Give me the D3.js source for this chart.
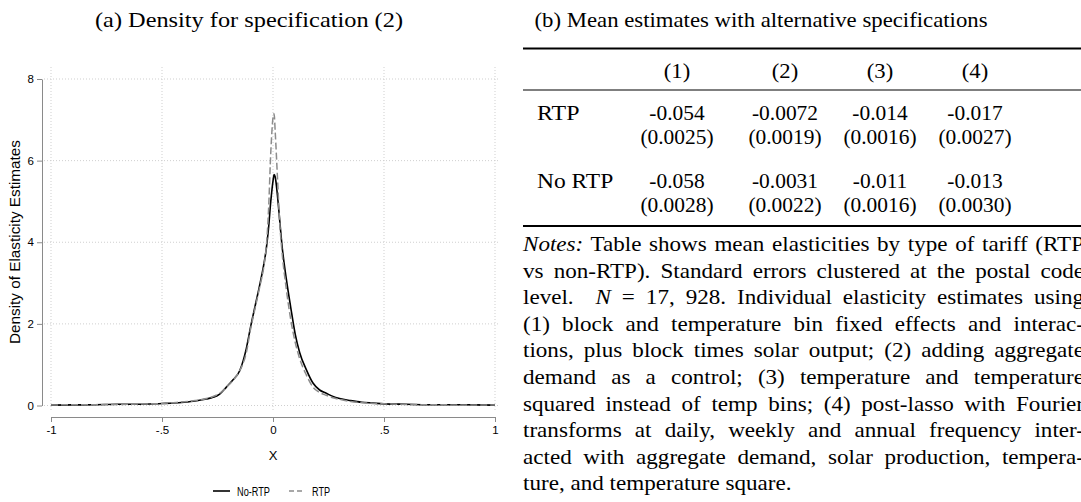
<!DOCTYPE html>
<html>
<head>
<meta charset="utf-8">
<script src="https://cdn.jsdelivr.net/npm/d3@7"></script>
<style>
  body { margin: 0; background: #fff; }
  svg { display: block; }
</style>
</head>
<body>
<svg id="fig" width="1081" height="502"></svg>
<script>
// ---- panel (a): kernel density ----
const densX = [-1, -0.9, -0.8, -0.7, -0.6, -0.5, -0.45, -0.4, -0.35, -0.3,
  -0.27, -0.24, -0.21, -0.18, -0.15, -0.12, -0.1, -0.08, -0.06, -0.04,
  -0.03, -0.02, -0.01, 0, 0.005, 0.01, 0.02, 0.03, 0.04, 0.06,
  0.08, 0.1, 0.12, 0.15, 0.18, 0.21, 0.24, 0.27, 0.3, 0.35,
  0.4, 0.45, 0.5, 0.6, 0.7, 0.8, 0.9, 1];
const noRtpDens = [0.01, 0.015, 0.02, 0.03, 0.03, 0.05, 0.06, 0.08, 0.11, 0.16,
  0.2, 0.28, 0.45, 0.63, 0.85, 1.4, 1.95, 2.45, 2.95, 3.5,
  3.85, 4.35, 5.0, 5.5, 5.66, 5.6, 5.15, 4.55, 3.95, 3.1,
  2.4, 1.75, 1.3, 0.88, 0.55, 0.38, 0.3, 0.22, 0.17, 0.12,
  0.08, 0.06, 0.04, 0.03, 0.02, 0.02, 0.015, 0.01];
const rtpDens = [0.01, 0.02, 0.02, 0.025, 0.035, 0.05, 0.07, 0.09, 0.12, 0.17,
  0.22, 0.3, 0.45, 0.62, 0.85, 1.3, 1.9, 2.4, 2.9, 3.45,
  3.9, 4.8, 6.2, 7.05, 7.15, 6.7, 5.6, 4.5, 3.8, 2.85,
  2.1, 1.55, 1.15, 0.75, 0.45, 0.32, 0.25, 0.19, 0.15, 0.1,
  0.07, 0.05, 0.04, 0.025, 0.02, 0.015, 0.01, 0.01];
const xTicks = [-1, -0.5, 0, 0.5, 1];
const xTickLabels = ["-1", "-.5", "0", ".5", "1"];
const yTicks = [0, 2, 4, 6, 8];
const legendLabels = ["No-RTP", "RTP"];

// ---- panel (b): table ----
const colHeads = ["(1)", "(2)", "(3)", "(4)"];
const rowLabels = ["RTP", "No RTP"];
const rtpEst = ["-0.054", "-0.0072", "-0.014", "-0.017"];
const rtpSe = ["(0.0025)", "(0.0019)", "(0.0016)", "(0.0027)"];
const noRtpEst = ["-0.058", "-0.0031", "-0.011", "-0.013"];
const noRtpSe = ["(0.0028)", "(0.0022)", "(0.0016)", "(0.0030)"];
const noteLines = [
  [["Notes:", true], [" Table shows mean elasticities by type of tariff (RTP", false]],
  [["vs non-RTP). Standard errors clustered at the postal code", false]],
  [["level.  ", false], ["N", true], [" = 17, 928. Individual elasticity estimates using", false]],
  [["(1) block and temperature bin fixed effects and interac-", false]],
  [["tions, plus block times solar output; (2) adding aggregate", false]],
  [["demand as a control; (3) temperature and temperature", false]],
  [["squared instead of temp bins; (4) post-lasso with Fourier", false]],
  [["transforms at daily, weekly and annual frequency inter-", false]],
  [["acted with aggregate demand, solar production, tempera-", false]],
  [["ture, and temperature square.", false]]
];

const svg = d3.select("#fig");
svg.append("rect").attr("width", 1081).attr("height", 502).attr("fill", "#fff");

const sans = "'Liberation Sans', Arial, Helvetica, sans-serif";
const serif = "'Liberation Serif', 'Times New Roman', serif";

let x = d3.scaleLinear().domain([-1, 1]).range([51, 495]);
let y = d3.scaleLinear().domain([0, 8]).range([405.5, 79]);

// grid
let grid = svg.append("g").attr("stroke", "#cfcfcf").attr("stroke-dasharray", "1,2").attr("stroke-width", 1);
grid.selectAll(".hg").data(yTicks).enter().append("line")
    .attr("x1", 44).attr("x2", 500)
    .attr("y1", d => y(d)).attr("y2", d => y(d));
grid.selectAll(".vg").data(xTicks).enter().append("line")
    .attr("x1", d => x(d)).attr("x2", d => x(d))
    .attr("y1", 67).attr("y2", 412);

// axes
let yAxis = svg.append("g").attr("transform", "translate(42,0)")
    .call(d3.axisLeft(y).tickValues(yTicks).tickSize(5).tickSizeOuter(0).tickPadding(3));
let xAxis = svg.append("g").attr("transform", "translate(0,417)")
    .call(d3.axisBottom(x).tickValues(xTicks).tickSize(5).tickSizeOuter(0).tickPadding(4)
        .tickFormat((d, i) => xTickLabels[i]));
[yAxis, xAxis].forEach(a => {
    a.selectAll("path, line").attr("stroke", "#8a8a8a");
    a.selectAll("text").attr("font-family", sans).attr("font-size", 11.5).attr("fill", "#000");
});

svg.append("text").attr("transform", "translate(20,242) rotate(-90)")
    .attr("text-anchor", "middle").attr("font-family", sans).attr("font-size", 14.5)
    .attr("textLength", 204).attr("lengthAdjust", "spacingAndGlyphs")
    .text("Density of Elasticity Estimates");
svg.append("text").attr("x", 273).attr("y", 460)
    .attr("text-anchor", "middle").attr("font-family", sans).attr("font-size", 13)
    .text("X");

// curves
let line = d3.line().x(d => x(d[0])).y(d => y(d[1])).curve(d3.curveMonotoneX);
svg.append("path").datum(d3.zip(densX, noRtpDens))
    .attr("d", line).attr("fill", "none").attr("stroke", "#000").attr("stroke-width", 1.6);
svg.append("path").datum(d3.zip(densX, rtpDens))
    .attr("d", line).attr("fill", "none").attr("stroke", "#8c8c8c").attr("stroke-width", 1.5)
    .attr("stroke-dasharray", "7,3");

// legend
let leg = svg.append("g").attr("font-family", sans).attr("font-size", 12.5);
leg.append("line").attr("x1", 213).attr("x2", 230).attr("y1", 491).attr("y2", 491)
    .attr("stroke", "#000").attr("stroke-width", 1.6);
leg.append("text").attr("x", 237).attr("y", 496)
    .attr("textLength", 33).attr("lengthAdjust", "spacingAndGlyphs").text(legendLabels[0]);
leg.append("line").attr("x1", 289).attr("x2", 305).attr("y1", 491).attr("y2", 491)
    .attr("stroke", "#8c8c8c").attr("stroke-width", 1.5).attr("stroke-dasharray", "5,3");
leg.append("text").attr("x", 312).attr("y", 496)
    .attr("textLength", 18).attr("lengthAdjust", "spacingAndGlyphs").text(legendLabels[1]);

// titles
svg.append("text").attr("x", 249).attr("y", 27).attr("text-anchor", "middle")
    .attr("font-family", serif).attr("font-size", 21)
    .attr("textLength", 308).attr("lengthAdjust", "spacingAndGlyphs")
    .text("(a) Density for specification (2)");
svg.append("text").attr("x", 761).attr("y", 27).attr("text-anchor", "middle")
    .attr("font-family", serif).attr("font-size", 21)
    .attr("textLength", 453).attr("lengthAdjust", "spacingAndGlyphs")
    .text("(b) Mean estimates with alternative specifications");

// table
function tex(x0, y0, str, anchor, k) {
    return svg.append("g").attr("transform", `translate(${x0},${y0}) scale(${k},1)`)
        .append("text").attr("text-anchor", anchor)
        .attr("font-family", serif).attr("font-size", 21).attr("fill", "#000").text(str);
}
const colX = [677, 785, 880, 975];
const tblLeft = 523, tblRight = 1084;
[[48.5, 2], [90, 1.1], [226, 2]].forEach(r => {
    svg.append("line").attr("x1", tblLeft).attr("x2", tblRight + 8)
        .attr("y1", r[0]).attr("y2", r[0]).attr("stroke", "#000").attr("stroke-width", r[1]);
});
colHeads.forEach((h, i) => tex(colX[i], 78, h, "middle", 1.08));
tex(537, 119.5, rowLabels[0], "start", 1.14);
tex(537, 188, rowLabels[1], "start", 1.12);
rtpEst.forEach((v, i) => tex(colX[i], 119.5, v, "middle", 1.02));
rtpSe.forEach((v, i) => tex(colX[i], 144, v, "middle", 1.02));
noRtpEst.forEach((v, i) => tex(colX[i], 188, v, "middle", 1.02));
noRtpSe.forEach((v, i) => tex(colX[i], 212, v, "middle", 1.02));

// notes, justified
const K = 1.1, noteW = tblRight - tblLeft;
noteLines.forEach((parts, i) => {
    let t = svg.append("g").attr("transform", `translate(${tblLeft},${251 + i * 26.6}) scale(${K},1)`)
        .append("text").attr("font-family", serif).attr("font-size", 21).attr("fill", "#000")
        .attr("xml:space", "preserve");
    parts.forEach(p => t.append("tspan").attr("font-style", p[1] ? "italic" : "normal").text(p[0]));
    if (i < noteLines.length - 1) {
        let natural = t.node().getComputedTextLength();
        let spaces = parts.map(p => p[0]).join("").split(" ").length - 1;
        t.attr("word-spacing", (noteW / K - natural) / spaces);
    }
});
</script>
</body>
</html>
